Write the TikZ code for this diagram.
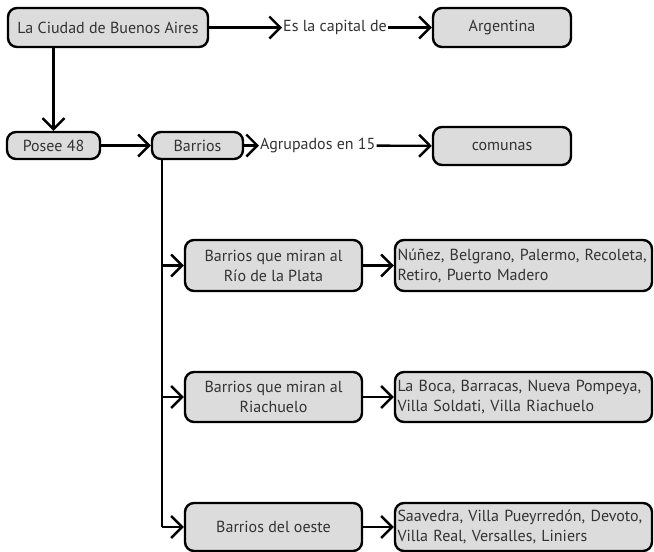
\documentclass[tikz,border=0pt]{standalone}
\usepackage{fontspec}
\setmainfont{PT Sans}
\usetikzlibrary{arrows.meta}
\definecolor{boxgray}{HTML}{DCDCDC}
\tikzset{
	caja/.style={fill=boxgray, draw, line width=2.4pt, rounded corners=9pt, inner sep=0pt, align=center, font=\fontsize{16}{20}\selectfont, text=black!80},
	lista/.style={caja, align=left, text width=#1},
	rotulo/.style={inner sep=1pt, font=\fontsize{16}{20}\selectfont, text=black!80},
	flecha/.style={line width=2.4pt, -{Straight Barb[length=11pt,width=22pt,line width=2.4pt]}},
	linea/.style={line width=2.4pt}
}
\begin{document}
\begin{tikzpicture}[x=1pt,y=-1pt]
		\useasboundingbox (0,0) rectangle (654,552);

		\node[caja, minimum width=200pt, minimum height=39pt] (ciudad) at (108,27.5) {La Ciudad de Buenos Aires};
		\node[rotulo, anchor=west] (capital) at (282,27.5) {Es la capital de};
		\node[caja, minimum width=138pt, minimum height=39pt] (argentina) at (502,27.5) {Argentina};

		\node[caja, minimum width=93pt, minimum height=27pt] (posee) at (53.5,145.5) {Posee 48};
		\node[caja, minimum width=91pt, minimum height=27pt] (barrios) at (197.5,145.5) {Barrios};
		\node[rotulo, anchor=west] (agrupados) at (259,145.5) {Agrupados en 15};
		\node[caja, minimum width=138pt, minimum height=38pt] (comunas) at (502,146) {comunas};

		\node[caja, minimum width=177pt, minimum height=51pt] (rio) at (273.5,265.5) {Barrios que miran al\\Río de la Plata};
		\node[lista=252pt, minimum width=257pt, minimum height=51pt] (riolista) at (523.5,265.5) {Núñez, Belgrano, Palermo, Recoleta,\\Retiro, Puerto Madero};

		\node[caja, minimum width=177pt, minimum height=50pt] (riachuelo) at (273.5,397) {Barrios que miran al\\Riachuelo};
		\node[lista=252pt, minimum width=257pt, minimum height=50pt] (riachlista) at (523.5,397) {La Boca, Barracas, Nueva Pompeya,\\Villa Soldati, Villa Riachuelo};

		\node[caja, minimum width=177pt, minimum height=48pt] (oeste) at (273.5,527) {Barrios del oeste};
		\node[lista=252pt, minimum width=257pt, minimum height=48pt] (oestelista) at (523.5,527) {Saavedra, Villa Pueyrredón, Devoto,\\Villa Real, Versalles, Liniers};

		\draw[flecha] (ciudad) -- (capital);
		\draw[flecha] (capital) -- (argentina);
		\draw[flecha] (ciudad.south -| posee.north) -- (posee.north);
		\draw[flecha] (posee) -- (barrios);
		\draw[flecha] (barrios) -- (agrupados);
		\draw[flecha] (agrupados) -- (comunas);

		% tronco de los barrios
		\coordinate (tronco) at ([xshift=11pt]barrios.south west);
		\draw[linea] (tronco) -- (tronco |- oeste.west);
		\draw[flecha] (tronco |- rio.west) -- (rio.west);
		\draw[flecha] (tronco |- riachuelo.west) -- (riachuelo.west);
		\draw[flecha, line join=miter] (tronco |- oeste.west) -- (oeste.west);

		\draw[flecha] (rio) -- (riolista);
		\draw[flecha] (riachuelo) -- (riachlista);
		\draw[flecha] (oeste) -- (oestelista);

	\end{tikzpicture}
\end{document}
